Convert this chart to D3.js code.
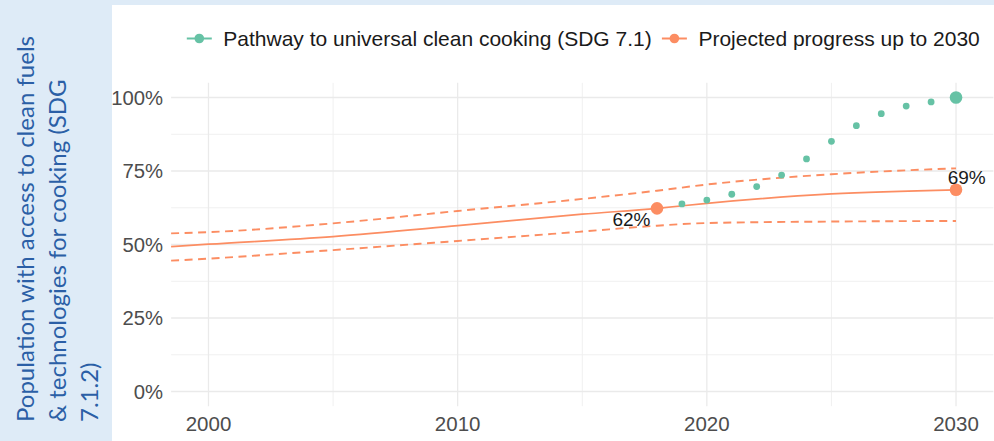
<!DOCTYPE html>
<html>
<head>
<meta charset="utf-8">
<script src="https://cdn.jsdelivr.net/npm/d3@7"></script>
<style>
  html, body { margin: 0; padding: 0; background: #deebf7; }
  svg { display: block; }
</style>
</head>
<body>
<svg id="chart" width="994" height="441"></svg>
<script>
// ---------- DATA ----------
const projYears   = [1998.5, 2000, 2005, 2010, 2015, 2018, 2020, 2025, 2030];
const projCentral = [49.3, 50.1, 52.7, 56.4, 60.3, 62.3, 64.0, 67.2, 68.6];
const projUpper   = [53.8, 54.2, 57.2, 61.4, 65.5, 68.3, 70.4, 73.9, 75.9];
const projLower   = [44.5, 45.2, 48.1, 51.2, 54.4, 56.4, 57.3, 57.8, 58.0];

const pathYears  = [2019, 2020, 2021, 2022, 2023, 2024, 2025, 2026, 2027, 2028, 2029, 2030];
const pathValues = [63.8, 65.1, 67.1, 69.7, 73.6, 79.1, 85.1, 90.4, 94.5, 97.1, 98.5, 100];

const projMarkYears  = [2018, 2030];
const projMarkValues = [62.3, 68.6];
const projMarkLabels = ["62%", "69%"];

const xTicks = [2000, 2010, 2020, 2030];
const xMinor = [2005, 2015, 2025];
const yTicks = [0, 25, 50, 75, 100];
const yMinor = [12.5, 37.5, 62.5, 87.5];
const yTickLabels = ["0%", "25%", "50%", "75%", "100%"];

const legendLabels = ["Pathway to universal clean cooking (SDG 7.1)", "Projected progress up to 2030"];
const yTitleLines = ["Population with access to clean fuels", "& technologies for cooking (SDG", "7.1.2)"];

// ---------- STYLE ----------
const GREEN = "#66c2a5", ORANGE = "#fc8d62";
const svg = d3.select("#chart");

svg.append("rect").attr("x", 0).attr("y", 0).attr("width", 994).attr("height", 441).attr("fill", "#deebf7");
svg.append("rect").attr("x", 112).attr("y", 5).attr("width", 882).attr("height", 436).attr("fill", "#ffffff");

const x = d3.scaleLinear().domain([1998.5, 2031.5]).range([171.1, 993.4]);
const y = d3.scaleLinear().domain([-5, 105]).range([406.2, 82.8]);

// gridlines
const grid = svg.append("g");
grid.selectAll(".ymin").data(yMinor).join("line")
  .attr("x1", x.range()[0]).attr("x2", x.range()[1])
  .attr("y1", d => y(d)).attr("y2", d => y(d))
  .attr("stroke", "#f0f0f0").attr("stroke-width", 1);
grid.selectAll(".xmin").data(xMinor).join("line")
  .attr("y1", y.range()[0]).attr("y2", y.range()[1])
  .attr("x1", d => x(d)).attr("x2", d => x(d))
  .attr("stroke", "#f0f0f0").attr("stroke-width", 1);
grid.selectAll(".ymaj").data(yTicks).join("line")
  .attr("x1", x.range()[0]).attr("x2", x.range()[1])
  .attr("y1", d => y(d)).attr("y2", d => y(d))
  .attr("stroke", "#eaeaea").attr("stroke-width", 1.3);
grid.selectAll(".xmaj").data(xTicks).join("line")
  .attr("y1", y.range()[0]).attr("y2", y.range()[1])
  .attr("x1", d => x(d)).attr("x2", d => x(d))
  .attr("stroke", "#eaeaea").attr("stroke-width", 1.3);

// axis labels
svg.append("g").selectAll("text").data(yTicks).join("text")
  .attr("x", 163).attr("y", d => y(d)).attr("dy", "0.36em")
  .attr("text-anchor", "end")
  .attr("font-family", "Liberation Sans, Arial, sans-serif").attr("font-size", 20.3)
  .attr("fill", "#4d4d4d")
  .text((d, i) => yTickLabels[i]);
svg.append("g").selectAll("text").data(xTicks).join("text")
  .attr("x", d => x(d)).attr("y", 431)
  .attr("text-anchor", "middle")
  .attr("font-family", "Liberation Sans, Arial, sans-serif").attr("font-size", 20.5)
  .attr("fill", "#4d4d4d")
  .text(d => d);

// projection lines
const line = d3.line().curve(d3.curveMonotoneX).x(d => x(d[0])).y(d => y(d[1]));
const mk = arr => projYears.map((yr, i) => [yr, arr[i]]);
svg.append("path").datum(mk(projUpper)).attr("d", line)
  .attr("fill", "none").attr("stroke", ORANGE).attr("stroke-width", 1.9).attr("stroke-dasharray", "8,5.5");
svg.append("path").datum(mk(projLower)).attr("d", line)
  .attr("fill", "none").attr("stroke", ORANGE).attr("stroke-width", 1.9).attr("stroke-dasharray", "8,5.5");
svg.append("path").datum(mk(projCentral)).attr("d", line)
  .attr("fill", "none").attr("stroke", ORANGE).attr("stroke-width", 1.7);

// pathway points
svg.append("g").selectAll("circle").data(pathYears).join("circle")
  .attr("cx", d => x(d)).attr("cy", (d, i) => y(pathValues[i]))
  .attr("r", (d, i) => i === pathYears.length - 1 ? 6.3 : 3.4)
  .attr("fill", GREEN);

// projection markers
svg.append("g").selectAll("circle").data(projMarkYears).join("circle")
  .attr("cx", d => x(d)).attr("cy", (d, i) => y(projMarkValues[i]))
  .attr("r", 6.3).attr("fill", ORANGE);

const labelOffsets = [[-25.5, 17.4], [10.7, -5.8]];
svg.append("g").selectAll("text").data(projMarkYears).join("text")
  .attr("x", (d, i) => x(d) + labelOffsets[i][0])
  .attr("y", (d, i) => y(projMarkValues[i]) + labelOffsets[i][1])
  .attr("text-anchor", "middle")
  .attr("font-family", "Liberation Sans, Arial, sans-serif").attr("font-size", 19)
  .attr("fill", "#1a1a1a")
  .text((d, i) => projMarkLabels[i]);

// legend
const leg = svg.append("g");
const legColors = [GREEN, ORANGE];
let cx = 199.3;
legendLabels.forEach((lab, i) => {
  leg.append("line").attr("x1", cx - 12.5).attr("x2", cx + 12.5).attr("y1", 38.5).attr("y2", 38.5)
    .attr("stroke", legColors[i]).attr("stroke-width", 2);
  leg.append("circle").attr("cx", cx).attr("cy", 38.5).attr("r", 4.8).attr("fill", legColors[i]);
  const t = leg.append("text").attr("x", cx + 24).attr("y", 45.7)
    .attr("font-family", "Liberation Sans, Arial, sans-serif").attr("font-size", 21)
    .attr("fill", "#1a1a1a").text(lab);
  const w = t.node().getComputedTextLength();
  cx = cx + 24 + w + 22.7;
});

// y title
const yt = svg.append("g");
const titleX = [34, 66, 98];
yTitleLines.forEach((s, i) => {
  yt.append("text")
    .attr("transform", `translate(${titleX[i]},422) rotate(-90)`)
    .attr("font-family", "Lato, Carlito, sans-serif").attr("font-size", 24)
    .attr("fill", "#2b5fa6")
    .text(s);
});
</script>
</body>
</html>
